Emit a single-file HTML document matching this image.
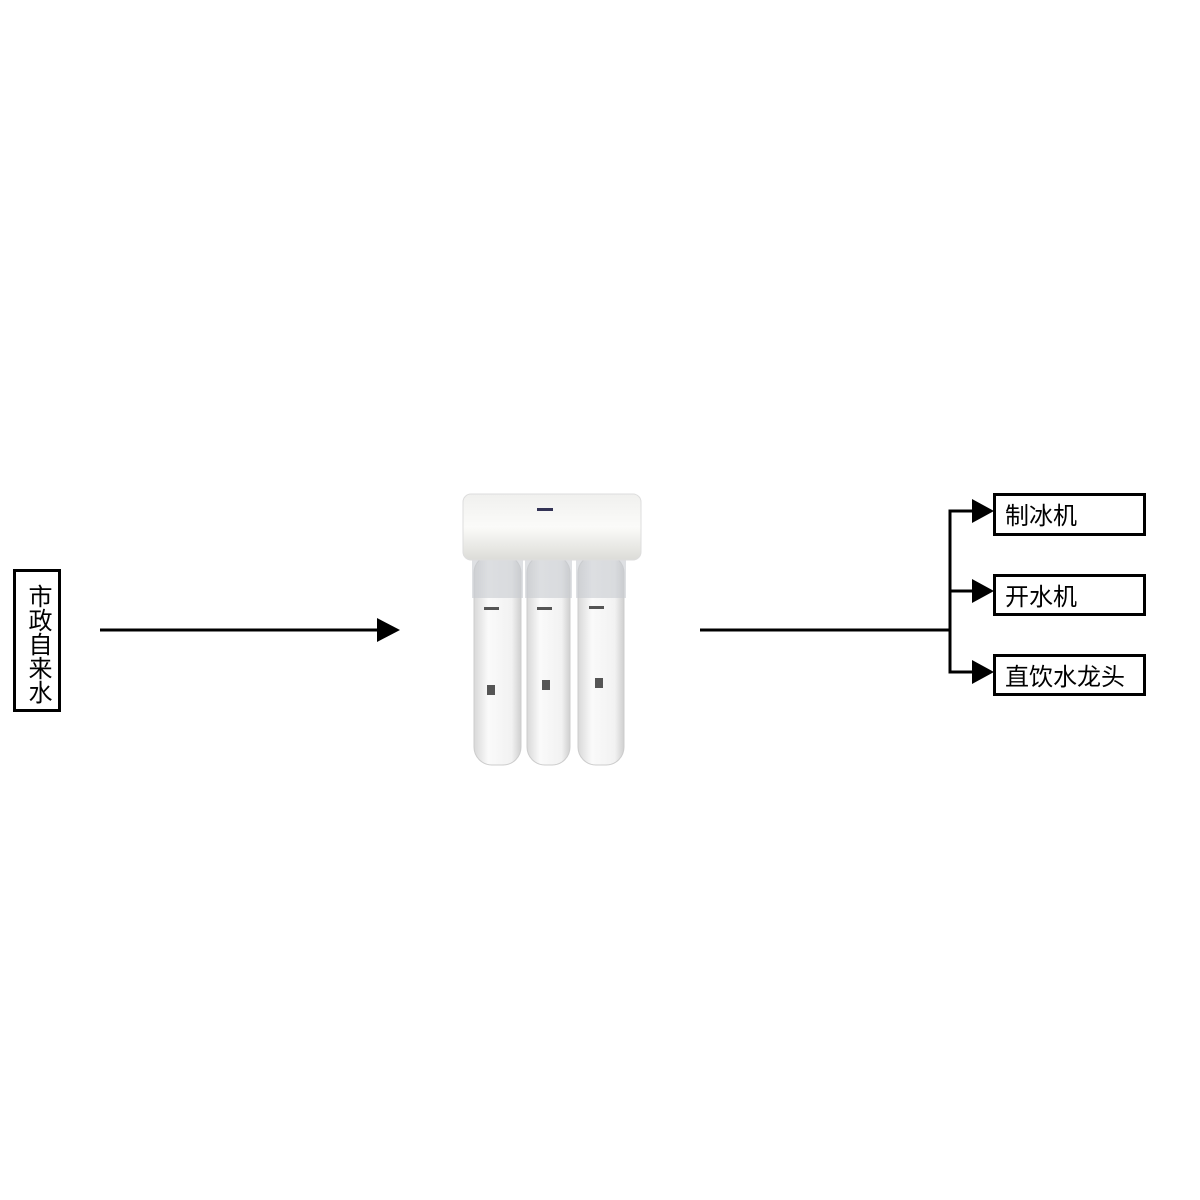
<!DOCTYPE html><html><head><meta charset="utf-8"><style>
body{margin:0;width:1200px;height:1200px;background:#fff;position:relative;overflow:hidden;font-family:"Liberation Sans","Noto Sans CJK SC",sans-serif}
.b{position:absolute;border:3px solid #000;box-sizing:border-box;background:#fff;font-size:24px;color:#000}
</style></head><body>
<div class="b" style="left:13px;top:569px;width:48px;height:143px;writing-mode:vertical-rl;text-align:center;line-height:42px;padding-top:6px">市政自来水</div>
<div class="b" style="left:993px;top:493px;width:153px;height:43px;padding-left:9px;line-height:42px">制冰机</div>
<div class="b" style="left:993px;top:574px;width:153px;height:42px;padding-left:9px;line-height:42px">开水机</div>
<div class="b" style="left:993px;top:654px;width:153px;height:42px;padding-left:9px;line-height:42px">直饮水龙头</div>
<svg width="1200" height="1200" style="position:absolute;left:0;top:0">
<g stroke="#000" stroke-width="3" fill="none">
<line x1="100" y1="630" x2="380" y2="630"/>
<line x1="700" y1="630" x2="950" y2="630"/>
<polyline points="975,511 950,511 950,672 975,672"/>
<line x1="950" y1="591" x2="975" y2="591"/>
</g>
<g fill="#000">
<polygon points="377,618 400,630 377,642"/>
<polygon points="972,499 994,511 972,523"/>
<polygon points="972,579 994,591 972,603"/>
<polygon points="972,660 994,672 972,684"/>
</g>
<defs><linearGradient id="c" x1="0" x2="1"><stop offset="0" stop-color="#d8d8d8"/><stop offset=".3" stop-color="#fafafa"/><stop offset=".8" stop-color="#f2f2f2"/><stop offset="1" stop-color="#cfcfcf"/></linearGradient>
<linearGradient id="h" x1="0" y1="0" x2="0" y2="1"><stop offset="0" stop-color="#f0f0ee"/><stop offset=".5" stop-color="#fbfbf9"/><stop offset="1" stop-color="#dcdcd8"/></linearGradient></defs>
<g>
<rect x="474" y="555" width="47" height="210" rx="18" fill="url(#c)" stroke="#ccc"/>
<rect x="527" y="555" width="43" height="210" rx="18" fill="url(#c)" stroke="#ccc"/>
<rect x="578" y="555" width="46" height="210" rx="18" fill="url(#c)" stroke="#ccc"/>
<rect x="472" y="558" width="51" height="40" fill="#c8ccd0" opacity=".6"/>
<rect x="525" y="558" width="47" height="40" fill="#c8ccd0" opacity=".6"/>
<rect x="576" y="558" width="50" height="40" fill="#c8ccd0" opacity=".6"/>
<rect x="463" y="494" width="178" height="66" rx="8" fill="url(#h)" stroke="#ddd"/>
<rect x="537" y="508" width="16" height="3" fill="#335"/>
<rect x="487" y="685" width="8" height="10" fill="#555"/>
<rect x="542" y="680" width="8" height="10" fill="#555"/>
<rect x="595" y="678" width="8" height="10" fill="#555"/>
<rect x="484" y="607" width="15" height="3" fill="#555"/>
<rect x="537" y="607" width="15" height="3" fill="#555"/>
<rect x="589" y="606" width="15" height="3" fill="#555"/>
</g>
</svg>
</body></html>
